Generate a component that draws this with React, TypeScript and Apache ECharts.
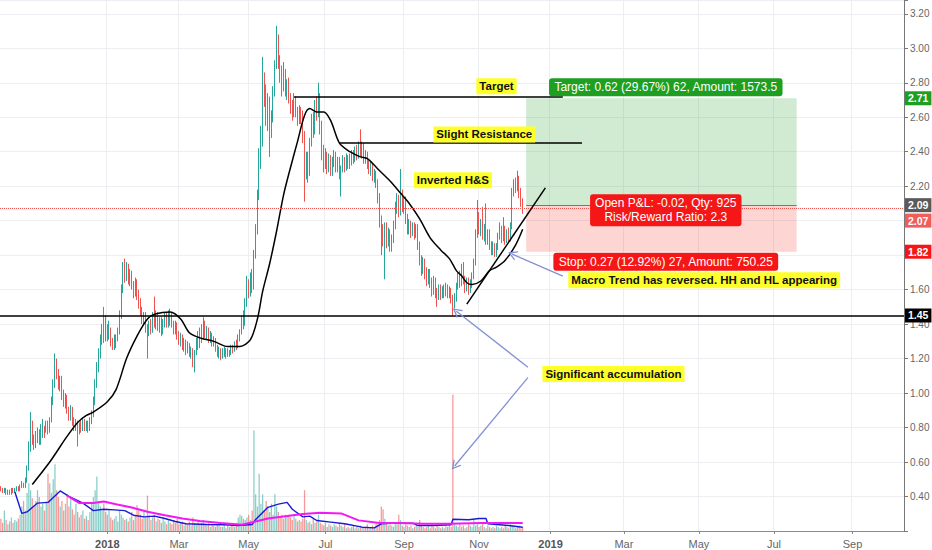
import React, { useEffect, useRef } from "react";
import * as echarts from "echarts";

const FONT = "'Liberation Sans', Arial, sans-serif";

// ---- axis / calendar ----
const START = [2017, 9, 4]; // 2017-10-04
const BAR_COUNT = 518;
const FIRST_LABEL_BAR = 30;
const HOLIDAYS = ["2017-12-25", "2017-12-26", "2018-01-01", "2018-01-26", "2018-03-30", "2018-04-02", "2018-04-25", "2018-12-25", "2018-12-26", "2019-01-01"];
const MONTHS = ["Jan", "Feb", "Mar", "Apr", "May", "Jun", "Jul", "Aug", "Sep", "Oct", "Nov", "Dec"];
const PRICE_MIN = 0.2;
const PRICE_MAX = 3.28;
const PRICE_STEP = 0.2;
const PRICE_LABELS_COVERED = ["2.00", "1.80"];
const VOLUME_AXIS_MAX = 390;

// ---- price candles [open, close, low, high] ----
const CANDLES: number[][] = [
  [0.45,0.44,0.43,0.46],[0.44,0.43,0.42,0.45],[0.43,0.44,0.42,0.45],[0.44,0.42,0.41,0.45],[0.42,0.43,0.41,0.44],
  [0.43,0.42,0.41,0.44],[0.42,0.44,0.41,0.45],[0.44,0.43,0.42,0.45],[0.43,0.44,0.42,0.45],[0.44,0.45,0.43,0.46],
  [0.45,0.44,0.43,0.46],[0.44,0.46,0.43,0.47],[0.46,0.47,0.45,0.49],[0.47,0.46,0.45,0.48],[0.46,0.49,0.45,0.51],
  [0.49,0.56,0.48,0.58],[0.56,0.68,0.55,0.72],[0.68,0.80,0.66,0.89],[0.80,0.74,0.70,0.84],[0.74,0.70,0.67,0.76],
  [0.70,0.73,0.68,0.78],[0.73,0.77,0.71,0.80],[0.77,0.72,0.70,0.79],[0.72,0.76,0.70,0.82],[0.76,0.80,0.74,0.85],
  [0.80,0.79,0.74,0.81],[0.79,0.82,0.77,0.84],[0.82,0.78,0.76,0.84],[0.78,0.84,0.77,0.86],[0.84,0.95,0.83,0.98],
  [0.95,1.05,0.93,1.08],[1.05,1.18,1.03,1.23],[1.18,1.12,1.08,1.20],[1.12,1.05,1.02,1.14],[1.05,1.08,1.01,1.10],
  [1.08,0.99,0.96,1.10],[0.99,0.94,0.92,1.02],[0.94,0.97,0.91,1.00],[0.97,0.90,0.88,0.99],[0.90,0.86,0.84,0.92],
  [0.86,0.90,0.84,0.93],[0.90,0.84,0.81,0.92],[0.84,0.80,0.78,0.86],[0.80,0.83,0.78,0.85],[0.83,0.78,0.69,0.84],
  [0.78,0.81,0.76,0.83],[0.81,0.79,0.77,0.84],[0.79,0.83,0.78,0.85],[0.83,0.80,0.78,0.85],[0.80,0.82,0.78,0.84],
  [0.82,0.79,0.77,0.84],[0.79,0.83,0.78,0.86],[0.83,0.87,0.82,0.90],[0.87,0.95,0.86,0.98],[0.95,1.05,0.93,1.08],
  [1.05,1.15,1.03,1.18],[1.15,1.22,1.12,1.26],[1.22,1.30,1.20,1.34],[1.30,1.36,1.28,1.40],[1.36,1.32,1.29,1.50],
  [1.32,1.37,1.30,1.45],[1.37,1.33,1.30,1.40],[1.33,1.36,1.31,1.42],[1.36,1.30,1.27,1.38],[1.30,1.27,1.25,1.32],
  [1.27,1.28,1.25,1.34],[1.28,1.32,1.26,1.34],[1.32,1.35,1.30,1.38],[1.35,1.45,1.34,1.48],[1.45,1.60,1.43,1.63],
  [1.60,1.72,1.58,1.76],[1.72,1.68,1.64,1.78],[1.68,1.73,1.65,1.76],[1.73,1.66,1.63,1.75],[1.66,1.70,1.62,1.72],
  [1.70,1.62,1.60,1.71],[1.62,1.58,1.55,1.65],[1.58,1.64,1.56,1.67],[1.64,1.57,1.54,1.66],[1.57,1.52,1.49,1.60],
  [1.52,1.48,1.45,1.55],[1.48,1.42,1.40,1.50],[1.42,1.45,1.39,1.47],[1.45,1.38,1.35,1.47],[1.38,1.35,1.20,1.40],
  [1.35,1.40,1.33,1.42],[1.40,1.37,1.34,1.43],[1.37,1.44,1.35,1.47],[1.44,1.40,1.38,1.56],[1.40,1.45,1.37,1.48],
  [1.45,1.38,1.36,1.47],[1.38,1.42,1.35,1.44],[1.42,1.36,1.33,1.44],[1.36,1.41,1.34,1.43],[1.41,1.44,1.38,1.47],
  [1.44,1.40,1.38,1.47],[1.40,1.45,1.38,1.48],[1.45,1.42,1.39,1.49],[1.42,1.40,1.38,1.47],[1.40,1.37,1.34,1.42],
  [1.37,1.40,1.34,1.42],[1.40,1.34,1.31,1.41],[1.34,1.30,1.28,1.36],[1.30,1.33,1.27,1.35],[1.33,1.27,1.25,1.34],
  [1.27,1.30,1.24,1.32],[1.30,1.25,1.22,1.31],[1.25,1.28,1.23,1.30],[1.28,1.23,1.21,1.29],[1.23,1.25,1.20,1.27],
  [1.25,1.20,1.15,1.26],[1.20,1.23,1.12,1.25],[1.23,1.30,1.22,1.32],[1.30,1.27,1.25,1.36],[1.27,1.36,1.26,1.38],
  [1.36,1.32,1.29,1.40],[1.32,1.40,1.31,1.44],[1.40,1.34,1.32,1.42],[1.34,1.37,1.31,1.39],[1.37,1.31,1.29,1.38],
  [1.31,1.34,1.29,1.36],[1.34,1.29,1.27,1.35],[1.29,1.31,1.27,1.33],[1.31,1.26,1.24,1.32],[1.26,1.23,1.21,1.28],
  [1.23,1.25,1.20,1.27],[1.25,1.21,1.19,1.26],[1.21,1.22,1.20,1.26],[1.22,1.25,1.21,1.27],[1.25,1.22,1.20,1.26],
  [1.22,1.24,1.21,1.26],[1.24,1.23,1.21,1.25],[1.23,1.26,1.22,1.28],[1.26,1.25,1.23,1.28],[1.25,1.28,1.24,1.30],
  [1.28,1.27,1.25,1.31],[1.27,1.32,1.26,1.34],[1.32,1.35,1.30,1.37],[1.35,1.42,1.34,1.45],[1.42,1.40,1.37,1.48],
  [1.40,1.52,1.39,1.55],[1.52,1.64,1.50,1.68],[1.64,1.58,1.55,1.66],[1.58,1.67,1.56,1.70],[1.67,1.62,1.58,1.72],
  [1.62,1.80,1.60,1.83],[1.80,1.95,1.78,1.98],[1.95,2.15,1.92,2.18],[2.15,2.38,2.12,2.42],[2.38,2.45,2.30,2.55],
  [2.45,2.82,2.43,2.95],[2.82,2.76,2.66,2.86],[2.76,2.62,2.55,2.79],[2.62,2.70,2.52,2.74],[2.70,2.52,2.37,2.72],
  [2.52,2.60,2.48,2.64],[2.60,2.75,2.57,2.78],[2.75,2.90,2.72,2.93],[2.90,3.04,2.88,3.13],[3.04,2.93,2.88,3.08],
  [2.93,2.86,2.80,2.96],[2.86,2.78,2.72,2.90],[2.78,2.85,2.75,2.92],[2.85,2.76,2.72,2.88],[2.76,2.80,2.70,2.82],
  [2.80,2.72,2.68,2.83],[2.72,2.68,2.62,2.74],[2.68,2.63,2.58,2.70],[2.63,2.70,2.60,2.74],[2.70,2.64,2.60,2.72],
  [2.64,2.60,2.55,2.66],[2.60,2.63,2.56,2.67],[2.63,2.62,2.56,2.66],[2.62,2.50,2.45,2.64],[2.50,2.30,2.11,2.52],
  [2.30,2.36,2.24,2.40],[2.36,2.28,2.22,2.40],[2.28,2.45,2.26,2.48],[2.45,2.58,2.43,2.62],[2.58,2.52,2.48,2.63],
  [2.52,2.66,2.50,2.70],[2.66,2.62,2.58,2.72],[2.62,2.72,2.60,2.80],[2.72,2.55,2.50,2.74],[2.55,2.40,2.35,2.58],
  [2.40,2.33,2.28,2.44],[2.33,2.38,2.30,2.42],[2.38,2.30,2.27,2.40],[2.30,2.36,2.28,2.39],[2.36,2.29,2.26,2.38],
  [2.29,2.34,2.26,2.37],[2.34,2.38,2.31,2.41],[2.38,2.31,2.28,2.40],[2.31,2.35,2.28,2.37],[2.35,2.27,2.24,2.37],
  [2.27,2.30,2.14,2.32],[2.30,2.35,2.28,2.38],[2.35,2.31,2.28,2.37],[2.31,2.36,2.29,2.39],[2.36,2.32,2.30,2.38],
  [2.32,2.34,2.30,2.39],[2.34,2.39,2.32,2.41],[2.39,2.36,2.33,2.41],[2.36,2.41,2.34,2.43],[2.41,2.38,2.35,2.44],
  [2.38,2.44,2.36,2.46],[2.44,2.40,2.37,2.53],[2.40,2.43,2.36,2.46],[2.43,2.36,2.33,2.45],[2.36,2.39,2.33,2.41],
  [2.39,2.33,2.30,2.40],[2.33,2.30,2.27,2.35],[2.30,2.32,2.26,2.34],[2.32,2.26,2.23,2.33],[2.26,2.28,2.22,2.30],
  [2.28,2.22,2.19,2.29],[2.22,2.14,2.10,2.24],[2.14,2.00,1.96,2.16],[2.00,1.94,1.80,2.03],[1.94,1.90,1.85,1.98],
  [1.90,1.96,1.66,1.99],[1.96,1.88,1.84,1.99],[1.88,1.93,1.85,1.96],[1.93,1.85,1.82,1.95],[1.85,1.89,1.82,1.92],
  [1.89,1.97,1.87,2.00],[1.97,2.08,1.95,2.11],[2.08,2.12,2.04,2.16],[2.12,2.05,2.02,2.15],[2.05,2.15,2.03,2.30],
  [2.15,2.08,2.05,2.18],[2.08,2.12,2.04,2.14],[2.12,2.02,1.98,2.14],[2.02,1.95,1.92,2.04],[1.95,1.98,1.92,2.01],
  [1.98,1.93,1.90,2.00],[1.93,1.97,1.91,1.99],[1.97,1.92,1.89,1.99],[1.92,1.96,1.90,1.98],[1.96,1.86,1.83,1.98],
  [1.86,1.78,1.74,1.88],[1.78,1.72,1.68,1.80],[1.72,1.76,1.69,1.79],[1.76,1.70,1.66,1.78],[1.70,1.66,1.62,1.73],
  [1.66,1.70,1.63,1.72],[1.70,1.64,1.61,1.72],[1.64,1.60,1.56,1.67],[1.60,1.65,1.57,1.68],[1.65,1.59,1.55,1.67],
  [1.59,1.56,1.50,1.61],[1.56,1.61,1.54,1.63],[1.61,1.57,1.54,1.63],[1.57,1.60,1.55,1.62],[1.60,1.58,1.55,1.63],
  [1.58,1.62,1.56,1.64],[1.62,1.57,1.55,1.63],[1.57,1.60,1.55,1.62],[1.60,1.55,1.52,1.61],[1.55,1.51,1.45,1.57],
  [1.51,1.55,1.49,1.58],[1.55,1.62,1.53,1.64],[1.62,1.68,1.60,1.70],[1.68,1.64,1.61,1.71],[1.64,1.72,1.62,1.75],
  [1.72,1.66,1.63,1.76],[1.66,1.61,1.58,1.68],[1.61,1.65,1.59,1.67],[1.65,1.60,1.57,1.67],[1.60,1.63,1.58,1.66],
  [1.63,1.68,1.61,1.70],[1.68,1.76,1.66,1.78],[1.76,1.92,1.74,1.95],[1.92,2.02,1.90,2.12],[2.02,1.95,1.92,2.05],
  [1.95,1.99,1.91,2.01],[1.99,1.92,1.89,2.08],[1.92,1.96,1.88,1.98],[1.96,1.89,1.86,2.10],[1.89,1.93,1.86,1.95],
  [1.93,1.86,1.83,1.95],[1.86,1.83,1.80,1.88],[1.83,1.86,1.80,1.88],[1.86,1.81,1.79,1.87],[1.81,1.85,1.79,1.87],
  [1.85,1.91,1.83,1.93],[1.91,1.96,1.89,1.99],[1.96,1.90,1.87,1.97],[1.90,1.95,1.88,2.02],[1.95,1.89,1.86,1.97],
  [1.89,1.93,1.87,1.95],[1.93,1.90,1.87,1.96],[1.90,1.97,1.88,1.99],[1.97,2.17,1.95,2.19],[2.17,2.22,2.14,2.24],
  [2.22,2.19,2.16,2.25],[2.19,2.24,2.17,2.29],[2.24,2.16,2.13,2.26],[2.16,2.11,2.08,2.19],[2.11,2.07,2.04,2.13],
];

// ---- volume per bar ----
const VOLUME: number[] = [
  9,6,15,8,5,7,10,6,8,7, 9,12,18,22,15,28,35,30,24,18, 22,30,25,18,20, 15,22,42,35,
  28,38,49,30,25,18,22,15,20,27, 18,24,16,12,20,14,10,12,15,9, 11,8,14,20,25,30,40,22,18,15,
  20,14,12,16,10,8, 9,11,7, 15,12,10,8,9,7,10,14,8,11, 19,15,12,9,14,10,26,12,8,10,
  12,7,9,8,6,10,7,5,8,6, 5,8,6,9,5,6,7,4,6, 5,7,4,10,6,5,8,5,6,8, 5,4,6,3,5,4,3,5,4,3,
  3,5,2,4,3,4,5,3,6, 10,12,11,9,8,10,12,8,15,74, 27,18,42,20,27,15,22,18,14,20,
  12,27,18,14,10,12,9,12,11,12, 10,8,12,9,7, 8,7,9,30, 8,6,7,5,9,6,7,12,6,5,
  4,6,3,5,4,3,5,4,3,6, 4,3,5,2,3, 2,3,4,2, 3,2,4,3,2,3,5,2,3,4, 3,6,5,8,18,16,9,6,4,5,
  4,3,6,5,12,8,4,3,5,4, 3,4,2,3,5, 3,8,4,3, 2,3,4,2,5,3,2,4,3,2, 3,2,4,3,5,3,100,6,4,3,
  5,3,4,2,3,5,4,3,8,4, 5,3,4,6,3,2,4,3,2,3, 2,4,3,2,3,2,4,3,2,5, 4,3,2,3,4,2,3,
];

// ---- indicator lines: [bar index, value] ----
const PRICE_MA: number[][] = [
  [18,0.47],[28,0.60],[38,0.75],[44,0.83],[49,0.87],[53,0.89],[61,0.95],[66,1.02],[72,1.20],[78,1.33],
  [84,1.43],[89,1.46],[97,1.47],[103,1.43],[108,1.35],[114,1.32],[122,1.30],[130,1.27],[137,1.27],[143,1.31],
  [147,1.43],[150,1.59],[154,1.75],[158,1.94],[162,2.15],[166,2.31],[170,2.46],[174,2.61],[177,2.65],[181,2.63],
  [185,2.63],[189,2.58],[194,2.45],[200,2.40],[206,2.37],[210,2.36],[216,2.30],[223,2.23],[229,2.16],[234,2.10],
  [240,2.01],[246,1.90],[252,1.83],[257,1.78],[261,1.71],[264,1.68],[267,1.64],[270,1.63],[275,1.65],[280,1.71],
  [284,1.73],[289,1.77],[295,1.86],[299,1.95],
];
const VOL_MA_FAST: number[][] = [
  [8,28.8],[12,12.9],[15,14],[21,20.5],[27,21],[34,29.4],[39,25.5],[47,20.5],[53,15],[59,16],[65,15.5],[71,15],
  [76,11.6],[82,10.4],[88,10.9],[94,9.2],[100,7],[106,5.3],[118,4.8],[128,4.6],[136,4],[144,4.8],[146,8.5],
  [153,17.4],[159,19.7],[164,21],[167,16],[173,10.4],[177,10.9],[181,7.7],[189,6.5],[197,5.3],[207,2.8],[214,2.3],
  [218,5.3],[226,5.8],[236,5.8],[239,4],[248,4],[258,4.6],[259,8.6],[268,8.3],[274,9.2],[278,9.2],[279,5.3],
  [291,4],[299,2.8],
];
const VOL_MA_SLOW: number[][] = [
  [38,26],[45,20.5],[53,20.5],[59,21.7],[66,19.7],[75,17.3],[84,14.1],[94,11.6],[104,9.2],[114,7.3],[126,5.8],
  [138,4.6],[146,7],[153,9.2],[163,10.9],[173,12.4],[183,13.4],[195,12.9],[205,7.8],[217,5.8],[228,5.8],[242,5.3],
  [256,5.3],[276,5.8],[299,5.8],
];

// ---- drawing annotations (bar index, price) ----
const LEVEL_SUPPORT = 1.45;
const LAST_PRICE = 2.07;
const POS_ENTRY = 2.09;
const POS_TARGET = 2.71;
const POS_STOP = 1.82;
const POS_START = 301;
const POS_END = 456;
const TARGET_LINE = { from: 168, to: 322, price: 2.72 };
const RESIST_LINE = { from: 194, to: 333, price: 2.45 };
const TREND_LINE = [[267, 1.516], [312, 2.19]];
const ARROWS = [
  [[322, 1.678], [293, 1.806]],
  [[302, 1.15], [261, 1.475]],
  [[302, 1.09], [260, 0.577]],
];
const YELLOW_NOTES = [
  { text: "Target", at: [284, 2.78] },
  { text: "Slight Resistance", at: [277, 2.50] },
  { text: "Inverted H&S", at: [259, 2.235] },
  { text: "Significant accumulation", at: [351, 1.11] },
  { text: "Macro Trend has reversed. HH and HL appearing", at: [403, 1.655] },
];
const POS_NOTES = [
  { text: "Target: 0.62 (29.67%) 62, Amount: 1573.5", at: [381, 2.774], color: "#1e9f22" },
  { text: "Open P&L: -0.02, Qty: 925\nRisk/Reward Ratio: 2.3", at: [381, 2.06], color: "#f51717" },
  { text: "Stop: 0.27 (12.92%) 27, Amount: 750.25", at: [381, 1.762], color: "#f51717" },
];

function buildDates(): string[] {
  const out: string[] = [];
  const d = new Date(Date.UTC(START[0], START[1], START[2]));
  while (out.length < BAR_COUNT) {
    const wd = d.getUTCDay();
    const s = d.toISOString().slice(0, 10);
    if (wd !== 0 && wd !== 6 && HOLIDAYS.indexOf(s) < 0) out.push(s);
    d.setUTCDate(d.getUTCDate() + 1);
  }
  return out;
}
const DATES = buildDates();

const isLabelDay = (index: number) => {
  if (index < FIRST_LABEL_BAR) return false;
  const m = Number(DATES[index].slice(5, 7)) - 1;
  const pm = Number(DATES[index - 1].slice(5, 7)) - 1;
  return m !== pm && m % 2 === 0;
};

const CHEVRON = "path://M0,10 L5,0 L10,10 L8.6,10 L5,3 L1.4,10 Z";
const NO_LINE = { color: "rgba(0,0,0,0)", width: 0 };

function tag(value: number, text: string, bg: string, lineStyle: any, offsetY = 0) {
  return {
    yAxis: value,
    lineStyle,
    label: {
      show: true,
      position: "end",
      formatter: text,
      backgroundColor: bg,
      color: "#fff",
      fontSize: 10.5,
      fontWeight: "bold",
      fontFamily: FONT,
      padding: [2, 3, 1, 3],
      distance: 1,
      offset: [0, offsetY],
    },
  };
}

function seg(a: number[], b: number[], style: any, arrow = false) {
  return [
    { coord: a, symbol: "none", lineStyle: style },
    arrow
      ? { coord: b, symbol: CHEVRON, symbolSize: [10, 9], lineStyle: style }
      : { coord: b, symbol: "none", lineStyle: style },
  ];
}

export default function App() {
  const ref = useRef<HTMLDivElement>(null);
  useEffect(() => {
    if (!ref.current) return;
    const chart = echarts.init(ref.current, null, { renderer: "svg" });
    const black = { color: "#000", width: 1.5, type: "solid" };
    const arrowStyle = { color: "#8490d2", width: 1.3, type: "solid" };

    const volData = VOLUME.map((v, i) => ({
      value: v,
      itemStyle: {
        color: CANDLES[i][1] >= CANDLES[i][0] ? "rgba(38,166,154,0.55)" : "rgba(239,83,80,0.6)",
      },
    }));

    const option: any = {
      animation: false,
      backgroundColor: "#ffffff",
      textStyle: { fontFamily: FONT },
      grid: { left: 0, right: 28, top: 0, bottom: 19, outerBoundsMode: "none" },
      xAxis: {
        type: "category",
        data: DATES,
        boundaryGap: true,
        axisLine: { show: true, lineStyle: { color: "#8a8a8a", width: 1 } },
        axisTick: { show: true, interval: isLabelDay, alignWithLabel: true, length: 3, lineStyle: { color: "#8a8a8a" } },
        axisLabel: {
          interval: isLabelDay,
          color: "#666",
          fontSize: 11,
          margin: 7,
          formatter: (v: string) => {
            const m = Number(v.slice(5, 7)) - 1;
            return m === 0 ? `{y|${v.slice(0, 4)}}` : MONTHS[m];
          },
          rich: { y: { fontWeight: "bold", color: "#555", fontSize: 11, fontFamily: FONT } },
        },
        splitLine: { show: true, interval: isLabelDay, lineStyle: { color: "#eceef1", width: 1 } },
      },
      yAxis: [
        {
          type: "value",
          position: "right",
          min: PRICE_MIN,
          max: PRICE_MAX,
          interval: PRICE_STEP,
          axisLine: { show: true, lineStyle: { color: "#777" } },
          axisTick: { show: true, length: 4, lineStyle: { color: "#777" } },
          axisLabel: {
            color: "#666",
            fontSize: 10,
            margin: 6,
            formatter: (v: number) => {
              const k = v / PRICE_STEP;
              const ok = Math.abs(k - Math.round(k)) < 1e-6 && v > 0.3 && v < 3.25;
              const s = v.toFixed(2);
              return ok && PRICE_LABELS_COVERED.indexOf(s) < 0 ? s : "";
            },
          },
          splitLine: { show: true, lineStyle: { color: "#eceef1" } },
        },
        { type: "value", min: 0, max: VOLUME_AXIS_MAX, show: false },
      ],
      series: [
        {
          name: "Volume",
          type: "bar",
          yAxisIndex: 1,
          data: volData,
          barWidth: "72%",
          silent: true,
        },
        {
          name: "Vol MA fast",
          type: "line",
          yAxisIndex: 1,
          data: VOL_MA_FAST,
          showSymbol: false,
          symbol: "none",
          lineStyle: { color: "#1a1ad6", width: 1.4 },
          silent: true,
        },
        {
          name: "Vol MA slow",
          type: "line",
          yAxisIndex: 1,
          data: VOL_MA_SLOW,
          showSymbol: false,
          symbol: "none",
          lineStyle: { color: "#f21af2", width: 2 },
          silent: true,
        },
        {
          name: "Price",
          type: "candlestick",
          data: CANDLES,
          barWidth: 1.3,
          itemStyle: {
            color: "#26a69a",
            color0: "#ef5350",
            borderColor: "#26a69a",
            borderColor0: "#ef5350",
            borderWidth: 1,
          },
          markArea: {
            silent: true,
            data: [
              [
                { coord: [POS_START, POS_TARGET], itemStyle: { color: "rgba(76,175,80,0.26)" } },
                { coord: [POS_END, POS_ENTRY] },
              ],
              [
                { coord: [POS_START, POS_ENTRY], itemStyle: { color: "rgba(244,67,54,0.22)" } },
                { coord: [POS_END, POS_STOP] },
              ],
            ],
          },
          markLine: {
            silent: true,
            symbol: ["none", "none"],
            label: { show: false },
            data: [
              tag(LEVEL_SUPPORT, "1.45", "#000", { color: "#000", width: 1.5, type: "solid" }),
              tag(LAST_PRICE, "2.07", "#ee5e5a", { color: "#ef5350", width: 1, type: "dotted" }, 12),
              tag(POS_TARGET, "2.71", "#1e9f22", NO_LINE),
              tag(POS_ENTRY, "2.09", "#5a5a5a", NO_LINE),
              tag(POS_STOP, "1.82", "#f51717", NO_LINE),
              seg([POS_START, POS_ENTRY], [POS_END, POS_ENTRY], { color: "#777", width: 1, type: "solid" }),
              seg([TARGET_LINE.from, TARGET_LINE.price], [TARGET_LINE.to, TARGET_LINE.price], black),
              seg([RESIST_LINE.from, RESIST_LINE.price], [RESIST_LINE.to, RESIST_LINE.price], black),
              seg(TREND_LINE[0], TREND_LINE[1], black),
              ...ARROWS.map((a) => seg(a[0], a[1], arrowStyle, true)),
            ],
          },
          markPoint: {
            silent: true,
            data: [
              ...YELLOW_NOTES.map((n) => ({
                coord: n.at,
                symbol: "rect",
                symbolSize: [1, 1],
                itemStyle: { color: "rgba(0,0,0,0)" },
                label: {
                  show: true,
                  position: "inside",
                  formatter: n.text,
                  backgroundColor: "#ffff2a",
                  color: "#111",
                  fontWeight: "bold",
                  fontSize: 11.5,
                  fontFamily: FONT,
                  padding: [2, 3, 2, 3],
                },
              })),
              ...POS_NOTES.map((n) => ({
                coord: n.at,
                symbol: "rect",
                symbolSize: [1, 1],
                itemStyle: { color: "rgba(0,0,0,0)" },
                label: {
                  show: true,
                  position: "inside",
                  formatter: n.text,
                  backgroundColor: n.color,
                  color: "#fff",
                  fontSize: 12,
                  lineHeight: 14,
                  align: "center",
                  fontFamily: FONT,
                  borderRadius: 3,
                  padding: [2, 5, 2, 5],
                },
              })),
            ],
          },
        },
        {
          name: "MA",
          type: "line",
          data: PRICE_MA,
          smooth: 0.3,
          showSymbol: false,
          symbol: "none",
          lineStyle: { color: "#000", width: 1.5 },
          silent: true,
        },
      ],
    };
    chart.setOption(option);
    return () => chart.dispose();
  }, []);
  return (
    <div
      ref={ref}
      style={{ position: "absolute", left: 0, top: 0, width: 932, height: 550, background: "#fff" }}
    />
  );
}
